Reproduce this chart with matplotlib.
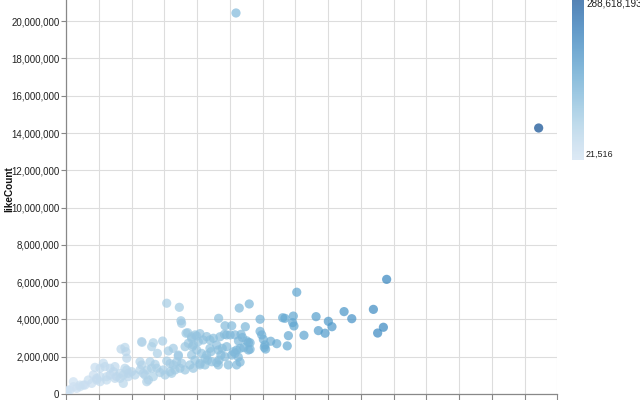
import numpy as np
import matplotlib
matplotlib.use("Agg")
import matplotlib.pyplot as plt
from matplotlib.colors import LinearSegmentedColormap, Normalize
from matplotlib.ticker import FuncFormatter, MultipleLocator

# ---- data (millions) ----
views_m = [
    103.8, 288.618193, 195.8, 140.9, 61.5, 69.2, 105.8, 111.9, 70.2, 70.6,
    93.2, 118.5, 132.3, 133.7, 138.8, 138.4, 139.2, 152.7, 160.2, 169.8,
    174.5, 187.7, 193.8, 190.3, 154.1, 158.2, 162.4, 145.3, 135.8, 135.1,
    128.7, 125.0, 118.5, 119.5, 120.5, 121.5, 121.9, 121.1, 109.5, 112.4,
    112.4, 101.2, 97.1, 96.7, 100.2, 103.2, 106.9, 94.0, 107.7, 110.4,
    111.4, 105.3, 108.6, 111.4, 102.2, 104.2, 101.2, 105.2, 106.3, 104.2,
    98.1, 95.4, 93.0, 94.6, 97.1, 93.4, 92.0, 99.1, 93.0, 88.5,
    87.9, 85.9, 84.9, 86.5, 89.0, 81.8, 78.8, 76.7, 80.8, 83.8,
    85.9, 87.9, 74.3, 74.7, 77.1, 79.8, 82.8, 76.7, 78.8, 81.8,
    75.7, 84.9, 77.7, 73.3, 46.2, 53.3, 52.3, 59.0, 55.8, 62.5,
    65.5, 68.6, 67.6, 61.5, 63.5, 33.6, 36.6, 37.1, 45.2, 46.2,
    51.3, 54.4, 55.4, 49.6, 48.2, 50.3, 57.4, 60.5, 63.5, 66.6,
    69.6, 72.7, 37.1, 40.1, 42.1, 38.0, 35.0, 22.8, 26.9, 20.8,
    28.9, 30.9, 16.7, 18.7, 20.8, 24.8, 13.6, 15.7, 10.6, 8.5,
    4.5, 6.5, 2.4, 0.4, 0.021516, 49.3, 33.0, 35.0,
    90.0, 106.3, 103.2, 81.8, 70.6, 65.5, 59.4, 64.5, 52.3, 53.3,
    45.2, 47.2, 38.0, 36.0, 33.0, 29.9, 26.9, 24.8, 20.8, 18.7,
    11.6, 8.5, 4.5, 1.4, 68.6, 76.7, 79.8, 98.1, 72.7, 77.7,
    92.0, 46.4, 36.0, 17.7, 23.8, 29.9,
]
likes_m = [
    20.44, 14.27, 6.15, 5.46, 4.87, 4.65, 4.61, 4.83, 3.93, 3.79,
    4.06, 4.01, 4.09, 4.06, 4.18, 3.83, 3.65, 4.15, 3.90, 4.42,
    4.04, 4.54, 3.58, 3.27, 3.40, 3.26, 3.61, 3.15, 3.13, 2.58,
    2.70, 2.83, 3.36, 3.17, 2.93, 2.63, 2.41, 2.50, 3.61, 2.75,
    2.40, 3.66, 3.66, 3.20, 3.17, 3.17, 3.20, 3.07, 3.03, 2.85,
    2.76, 2.85, 2.49, 2.36, 2.27, 2.36, 2.09, 1.98, 1.71, 1.56,
    2.54, 2.45, 2.36, 2.09, 2.00, 1.82, 1.68, 1.56, 1.56, 2.27,
    2.45, 2.09, 1.91, 1.82, 1.73, 3.24, 3.17, 2.99, 2.81, 2.90,
    3.08, 2.90, 3.29, 2.72, 2.54, 2.36, 2.18, 2.09, 1.82, 1.64,
    1.56, 1.56, 1.38, 3.26, 2.81, 2.75, 2.54, 2.84, 2.18, 2.31,
    2.45, 2.09, 1.73, 1.77, 1.63, 2.41, 2.27, 1.92, 1.73, 1.56,
    1.73, 1.59, 1.38, 1.29, 1.02, 0.75, 1.15, 1.02, 1.20, 1.29,
    1.38, 1.29, 1.29, 1.20, 1.02, 0.93, 1.02, 1.65, 1.38, 1.38,
    1.20, 0.93, 1.02, 0.84, 0.66, 0.75, 0.75, 0.57, 0.48, 0.39,
    0.66, 0.30, 0.21, 0.12, 0.03, 0.66, 0.84, 0.57,
    2.99, 2.45, 2.18, 1.56, 1.65, 1.56, 1.29, 1.11, 1.38, 0.93,
    1.29, 1.11, 1.11, 1.38, 1.11, 0.84, 1.02, 0.93, 0.93, 0.75,
    0.48, 0.48, 0.39, 0.21, 2.04, 3.07, 3.11, 3.17, 2.54, 2.63,
    2.63, 2.77, 2.50, 1.43, 1.47, 1.47,
]
y_title = "likeCount"
blues_hex = ["#cfe1f2", "#bed8ec", "#a8cee5", "#8fc1de", "#74b2d7", "#5ba3cf",
             "#4592c6", "#3181bd", "#206fb2", "#125ca4", "#0a4a90"]

views = np.array(views_m) * 1e6
likes = np.array(likes_m) * 1e6
vmin, vmax = views.min(), views.max()

plt.rcParams['font.family'] = ['Liberation Sans', 'DejaVu Sans']
fig = plt.figure(figsize=(6.4, 4.0), dpi=100)
W, H = 640.0, 400.0

# plot area (pixel geometry of the reference crop)
left_px, right_px, bottom_px, top_px = 66.0, 557.3, 394.0, -16.1
ax = fig.add_axes([left_px / W, 1 - bottom_px / H,
                   (right_px - left_px) / W, (bottom_px - top_px) / H])

cmap = LinearSegmentedColormap.from_list("vega_blues", blues_hex)
norm = Normalize(vmin=vmin, vmax=vmax)

ax.scatter(views, likes, c=views, cmap=cmap, norm=norm, s=44, alpha=0.7,
           linewidths=0, zorder=3)

ax.set_xlim(0, 300e6)
ax.set_ylim(0, 22e6)
ax.xaxis.set_major_locator(MultipleLocator(20e6))
ax.yaxis.set_major_locator(MultipleLocator(2e6))
ax.yaxis.set_major_formatter(FuncFormatter(lambda v, p: f"{int(round(v)):,}"))
ax.grid(True, color="#dddddd", linewidth=0.8, zorder=0)
ax.set_axisbelow(True)
for s in ["top", "right"]:
    ax.spines[s].set_visible(False)
for s in ["left", "bottom"]:
    ax.spines[s].set_color("#888888")
    ax.spines[s].set_linewidth(0.9)
ax.tick_params(axis="y", length=3.6, width=0.8, color="#888888", pad=1.2,
               labelsize=7, labelcolor="#222222")
ax.tick_params(axis="x", length=4.3, width=0.8, color="#888888", labelbottom=False)

# y-axis title
fig.text(9.5 / W, 1 - ((bottom_px + top_px) / 2) / H, y_title, rotation=90,
         fontsize=7.2, fontweight="bold", color="#111111",
         ha="center", va="center")

# gradient legend
g_left, g_right, g_top, g_bottom = 572.3, 584.3, -3.5, 160.0
lax = fig.add_axes([g_left / W, 1 - g_bottom / H,
                    (g_right - g_left) / W, (g_bottom - g_top) / H])
grad = np.linspace(vmax, vmin, 256).reshape(-1, 1)
lax.imshow(grad, aspect="auto", cmap=cmap, norm=norm, alpha=0.7,
           extent=[0, 1, vmin, vmax], origin="upper")
lax.set_axis_off()
fig.text(586 / W, 1 - 159 / H, f"{int(round(vmin)):,}", fontsize=6.5,
         color="#222222", ha="left", va="bottom")
fig.text(586 / W, 1 - (-2.0) / H, f"{int(round(vmax)):,}", fontsize=7.2,
         color="#222222", ha="left", va="top")

fig.savefig("out.png", dpi=100)
